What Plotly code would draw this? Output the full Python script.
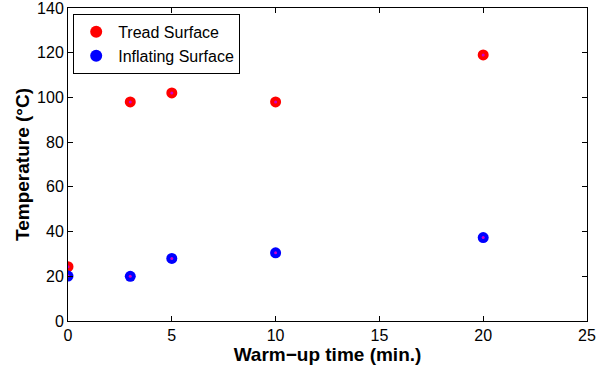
import plotly.graph_objects as go

time_min = [0, 3, 5, 10, 20]
tread_surface = [24.3, 98, 102, 98, 119]
inflating_surface = [20.1, 20, 28, 30.5, 37.3]
x_ticks = [0, 5, 10, 15, 20, 25]
y_ticks = [0, 20, 40, 60, 80, 100, 120, 140]

FONT = "Liberation Sans, Arial, Helvetica"

fig = go.Figure()
fig.add_trace(go.Scatter(x=time_min, y=tread_surface, mode="markers", name="Tread Surface",
                         marker=dict(color="#ff0000", size=11, line=dict(width=0))))
fig.add_trace(go.Scatter(x=time_min, y=inflating_surface, mode="markers", name="Inflating Surface",
                         marker=dict(color="#0000ff", size=11, line=dict(width=0))))
for ys in (tread_surface, inflating_surface):
    fig.add_trace(go.Scatter(x=time_min, y=ys, mode="markers", showlegend=False, hoverinfo="skip",
                             marker=dict(color="#cc00cc", size=3, line=dict(width=0))))

axis_common = dict(showgrid=False, zeroline=False, showline=True, linecolor="black", linewidth=1,
                   mirror="ticks", ticks="inside", ticklen=5, tickcolor="black",
                   ticklabeloverflow="allow", automargin=False,
                   tickfont=dict(family=FONT, size=16, color="black"))
fig.update_xaxes(range=[0, 25], tickvals=x_ticks, **axis_common,
                 title=dict(text="<b>Warm−up time (min.)</b>", standoff=2,
                            font=dict(family=FONT, size=19, color="black")))
fig.update_yaxes(range=[0, 140], tickvals=y_ticks, **axis_common,
                 title=dict(text="<b>Temperature (°C)</b>", standoff=2,
                            font=dict(family=FONT, size=19, color="black")))
fig.update_layout(width=606, height=367, margin=dict(l=68, r=19, t=8, b=46),
                  plot_bgcolor="white", paper_bgcolor="white",
                  legend=dict(x=0.01, y=0.981, xanchor="left", yanchor="top",
                              bordercolor="black", borderwidth=1, bgcolor="white",
                              font=dict(family=FONT, size=16, color="black"),
                              itemwidth=34, itemsizing="constant", tracegroupgap=0))
fig.write_html("out.html")
